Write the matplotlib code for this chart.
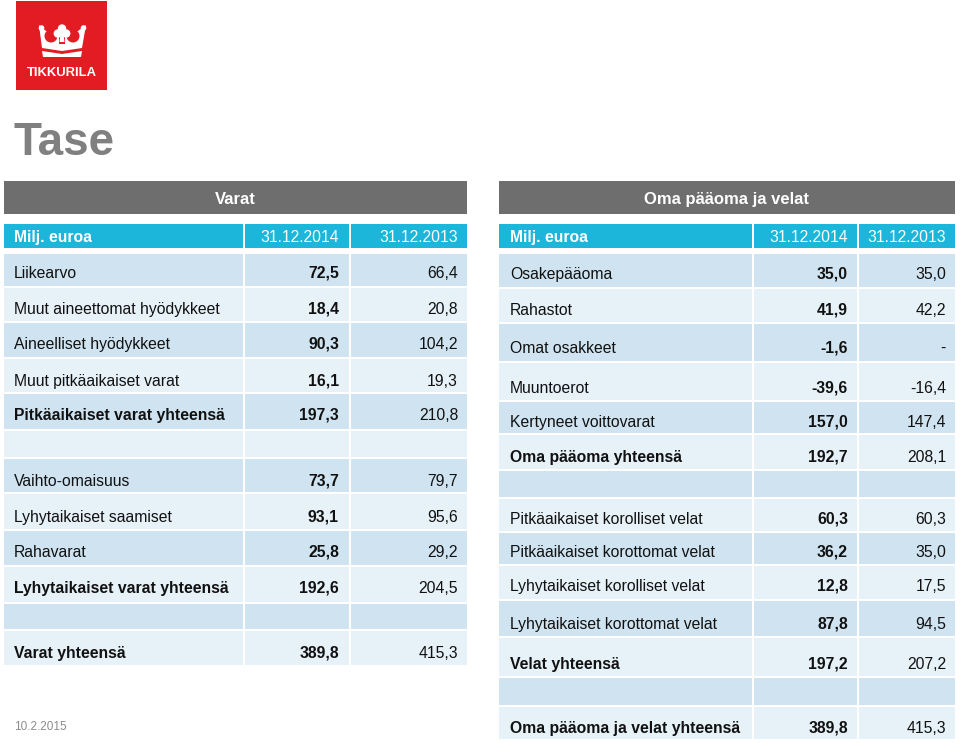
import matplotlib.pyplot as plt
from matplotlib.patches import Rectangle, Circle, Polygon, Ellipse

plt.rcParams['font.family'] = ['Liberation Sans', 'DejaVu Sans']

# --- data ---
left_labels = ['Liikearvo', 'Muut aineettomat hyödykkeet', 'Aineelliset hyödykkeet',
               'Muut pitkäaikaiset varat', 'Pitkäaikaiset varat yhteensä', '',
               'Vaihto-omaisuus', 'Lyhytaikaiset saamiset', 'Rahavarat',
               'Lyhytaikaiset varat yhteensä', '', 'Varat yhteensä']
left_2014 = ['72,5', '18,4', '90,3', '16,1', '197,3', '', '73,7', '93,1', '25,8', '192,6', '', '389,8']
left_2013 = ['66,4', '20,8', '104,2', '19,3', '210,8', '', '79,7', '95,6', '29,2', '204,5', '', '415,3']
left_bold = [False, False, False, False, True, False, False, False, False, True, False, True]

right_labels = ['Osakepääoma', 'Rahastot', 'Omat osakkeet', 'Muuntoerot', 'Kertyneet voittovarat',
                'Oma pääoma yhteensä', '', 'Pitkäaikaiset korolliset velat',
                'Pitkäaikaiset korottomat velat', 'Lyhytaikaiset korolliset velat',
                'Lyhytaikaiset korottomat velat', 'Velat yhteensä', '',
                'Oma pääoma ja velat yhteensä']
right_2014 = ['35,0', '41,9', '-1,6', '-39,6', '157,0', '192,7', '', '60,3', '36,2', '12,8', '87,8', '197,2', '', '389,8']
right_2013 = ['35,0', '42,2', '-', '-16,4', '147,4', '208,1', '', '60,3', '35,0', '17,5', '94,5', '207,2', '', '415,3']
right_bold = [False, False, False, False, False, True, False, False, False, False, False, True, False, True]

col_head = ['Milj. euroa', '31.12.2014', '31.12.2013']

# layout (pixel grid)
left_edges = [253, 287, 322, 358, 393, 430, 458, 493, 530, 566, 603, 630, 666]
left_text_y = [272, 308, 343, 380, 414, 446, 480, 516, 551, 587, 617, 652]
right_edges = [253, 288, 323, 362, 401, 434, 470, 498, 532, 565, 600, 637, 677, 706, 740]
right_text_y = [273, 309, 347, 387, 421, 456, 485, 518, 551, 585, 623, 663, 693, 727]

GRAY = '#6e6e6e'
CYAN = '#1bb6da'
DARK = '#cfe4f0'
LIGHT = '#e6f1f8'
RED = '#e31b23'
FS = 11.3
BL = 5.6  # offset from visual centre to baseline

fig = plt.figure(figsize=(9.6, 7.43), dpi=100)
ax = fig.add_axes([0, 0, 1, 1])
ax.set_xlim(0, 960)
ax.set_ylim(743, 0)
ax.axis('off')


def table(x0, x1, x2, x3, lab_x, v1_x, v2_x, title, labels, v14, v13, bold, edges, ty):
    ax.add_patch(Rectangle((x0, 181), x3 - x0, 33, color=GRAY, lw=0))
    ax.text((x0 + x3) / 2, 198 + 6, title, color='white', fontsize=12, fontweight='bold',
            ha='center', va='baseline')
    cols = [(x0, x1), (x1 + 2, x2), (x2 + 2, x3)]
    for a, b in cols:
        ax.add_patch(Rectangle((a, 224), b - a, 24, color=CYAN, lw=0))
    hy = 236.5 + BL
    ax.text(lab_x, hy, col_head[0], color='white', fontsize=FS, fontweight='bold', va='baseline')
    ax.text(v1_x, hy, col_head[1], color='white', fontsize=FS, ha='right', va='baseline')
    ax.text(v2_x, hy, col_head[2], color='white', fontsize=FS, ha='right', va='baseline')
    for i in range(len(labels)):
        top, bot = edges[i], edges[i + 1]
        c = DARK if i % 2 == 0 else LIGHT
        for a, b in cols:
            ax.add_patch(Rectangle((a, top + 1), b - a, bot - top - 2, color=c, lw=0))
        w = 'bold' if bold[i] else 'normal'
        y = ty[i] + BL
        ax.text(lab_x, y, labels[i], fontsize=FS, fontweight=w, va='baseline', color='#111111')
        ax.text(v1_x, y, v14[i], fontsize=FS, fontweight='bold', ha='right', va='baseline',
                color='#111111')
        ax.text(v2_x, y, v13[i], fontsize=FS, ha='right', va='baseline', color='#111111')


table(4, 243, 349, 467, 14, 339, 458, 'Varat', left_labels, left_2014, left_2013, left_bold,
      left_edges, left_text_y)
table(499, 752, 857, 955, 510, 848, 946, 'Oma pääoma ja velat', right_labels, right_2014,
      right_2013, right_bold, right_edges, right_text_y)

# logo: red square with white crown
ax.add_patch(Rectangle((16, 1), 91, 89, color=RED, lw=0))
ax.add_patch(Polygon([[39, 25], [46, 31], [62, 36], [78, 31], [86, 25], [82, 48], [62, 51], [42, 48]],
                     closed=True, color='white', lw=0))
ax.add_patch(Polygon([[42, 51], [62, 54], [82, 51], [81, 57], [43, 57]], closed=True,
                     color='white', lw=0))
for cx in (51, 73):
    ax.add_patch(Ellipse((cx, 36), 13, 13, color=RED, lw=0))
ax.add_patch(Circle((41.5, 28), 2.8, color='white', lw=0))
ax.add_patch(Circle((83.5, 28), 2.8, color='white', lw=0))
ax.add_patch(Rectangle((59, 32), 6, 12, color=RED, lw=0))
for cx, cy in [(62, 28.5), (57.8, 33.5), (66.2, 33.5)]:
    ax.add_patch(Circle((cx, cy), 4.2, color='white', lw=0))
ax.add_patch(Polygon([[60.5, 34], [63.5, 34], [64.5, 42], [59.5, 42]], closed=True,
                     color='white', lw=0))
ax.text(62, 73.5, 'TIKKURILA', color='white', fontsize=9.4, fontweight='bold',
        ha='center', va='center')

ax.text(13, 143, 'Tase', color='#808080', fontsize=33, fontweight='bold', va='center')
ax.text(14, 727, '10.2.2015', color='#8c8c8c', fontsize=8.5, va='center')

fig.savefig('out.png', dpi=100)
